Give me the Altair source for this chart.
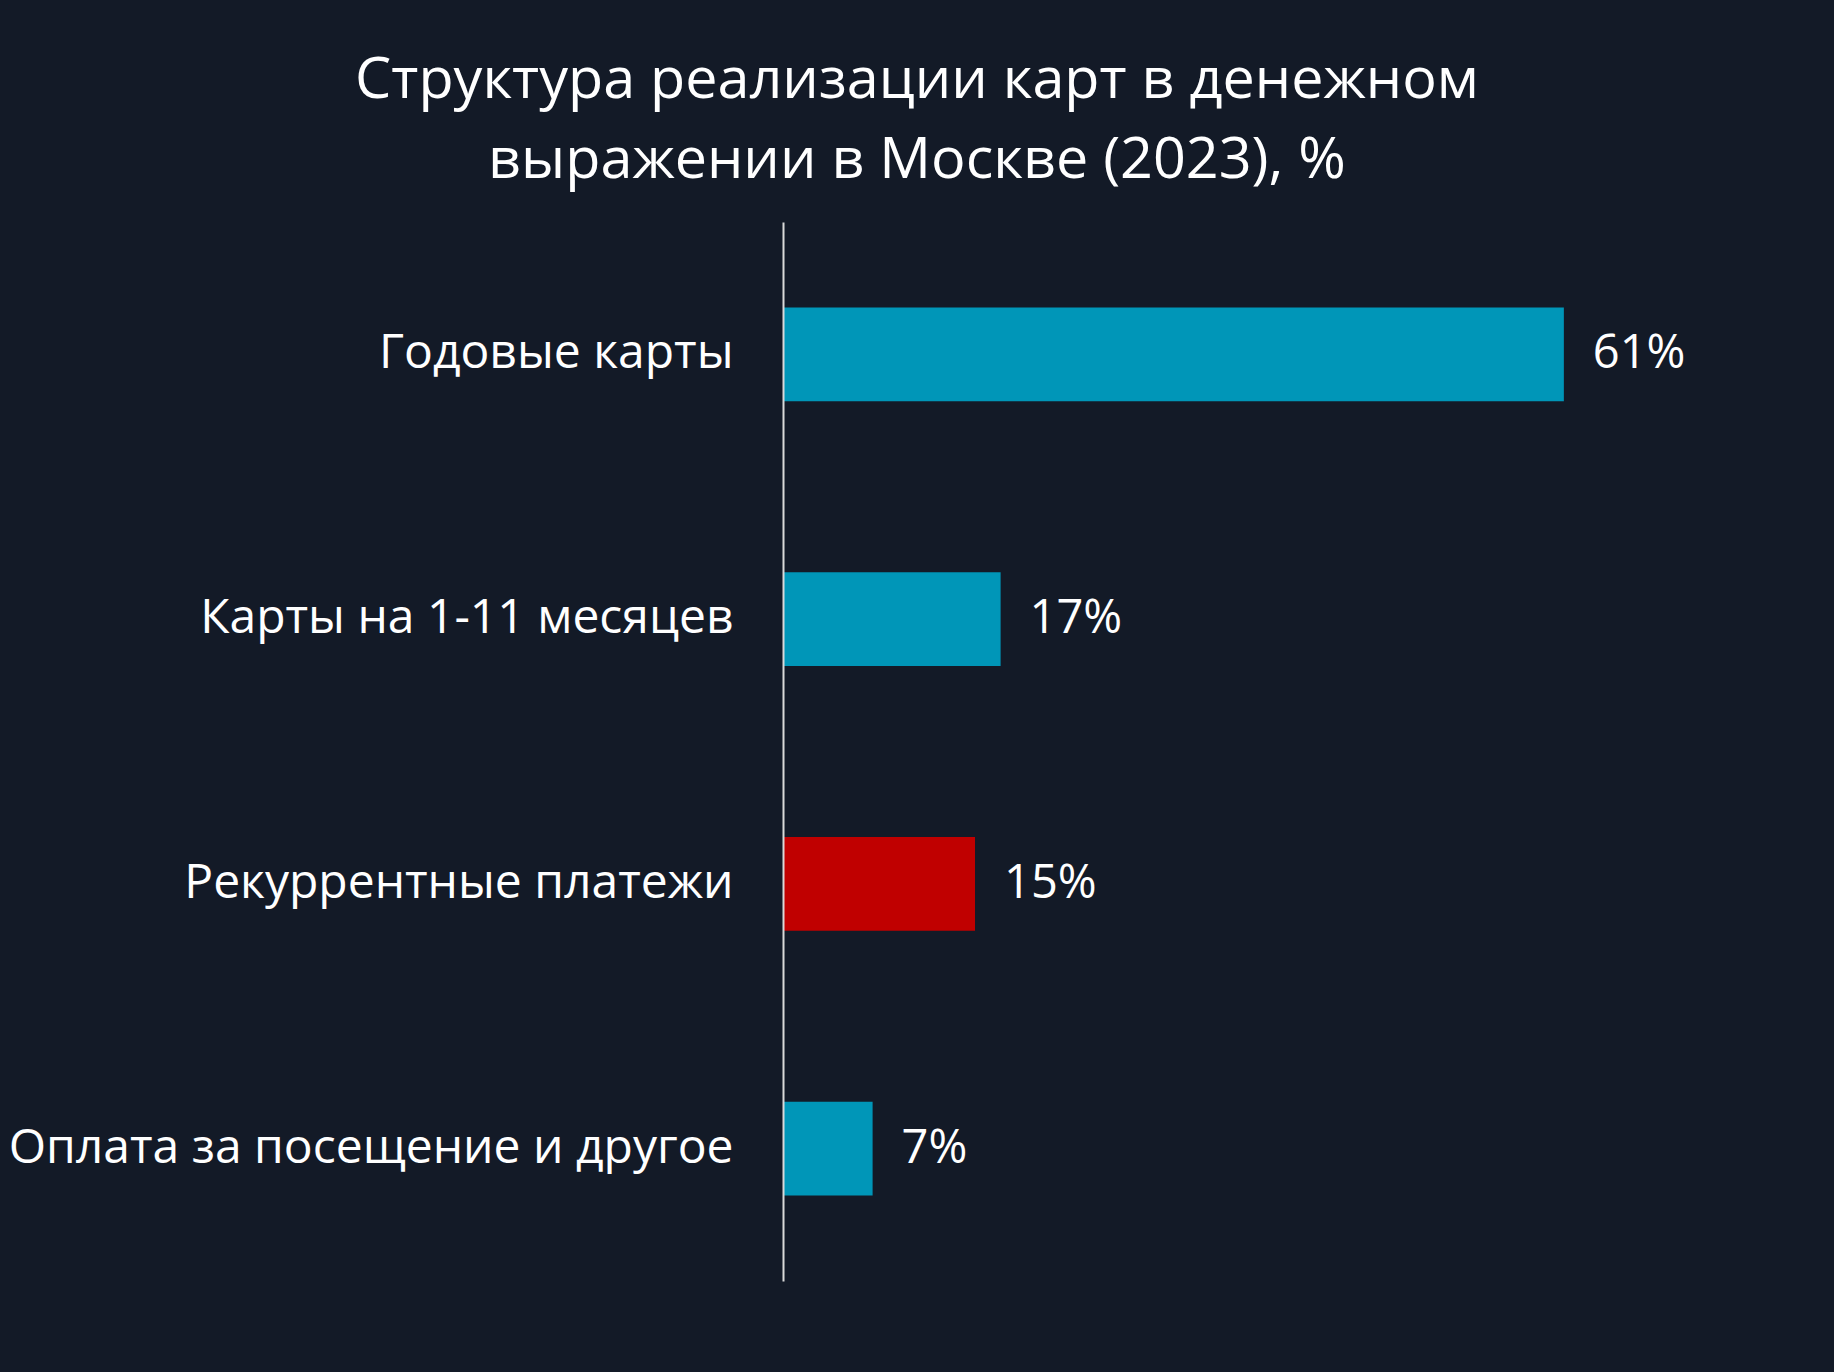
import altair as alt
import pandas as pd

categories = [
    "Годовые карты",
    "Карты на 1-11 месяцев",
    "Рекуррентные платежи",
    "Оплата за посещение и другое",
]
values = [61, 17, 15, 7]
bar_colors = ["#0096B8", "#0096B8", "#C00000", "#0096B8"]

df = pd.DataFrame({"category": categories, "value": values})

FONT = "Open Sans"
BG = "#131A27"

base = alt.Chart(df).encode(
    y=alt.Y(
        "category:N",
        sort=categories,
        scale=alt.Scale(paddingInner=0.646, paddingOuter=0.323),
        axis=alt.Axis(
            title=None,
            ticks=False,
            domain=True,
            domainColor="#D9D9D9",
            domainWidth=2,
            labelFont=FONT,
            labelFontSize=48,
            labelColor="#FFFFFF",
            labelPadding=50,
            labelLimit=1000,
            grid=False,
            zindex=1,
        ),
    ),
    x=alt.X(
        "value:Q",
        scale=alt.Scale(domain=[0, 81.4], nice=False),
        axis=None,
    ),
)

bars = base.mark_bar().encode(
    color=alt.Color(
        "category:N",
        scale=alt.Scale(domain=categories, range=bar_colors),
        legend=None,
    )
)

labels = base.transform_calculate(
    label="datum.value + '%'"
).mark_text(
    align="left",
    baseline="middle",
    dx=29,
    font=FONT,
    fontSize=47,
    color="#FFFFFF",
).encode(text="label:N")

chart = (
    alt.layer(bars, labels)
    .properties(
        width=1042,
        height=1059,
        title=alt.TitleParams(
            text=["Структура реализации карт в денежном", "выражении в Москве (2023), %"],
            font=FONT,
            fontSize=57.5,
            fontWeight="normal",
            color="#FFFFFF",
            lineHeight=80,
            anchor="middle",
            frame="group",
            dx=-387,
            offset=32,
        ),
        autosize=alt.AutoSizeParams(type="none"),
        padding={"left": 783, "top": 222, "right": 9, "bottom": 91},
    )
    .configure(background=BG)
    .configure_view(stroke=None)
)

chart.save("out.html", embed_options={"renderer": "svg", "actions": False})
